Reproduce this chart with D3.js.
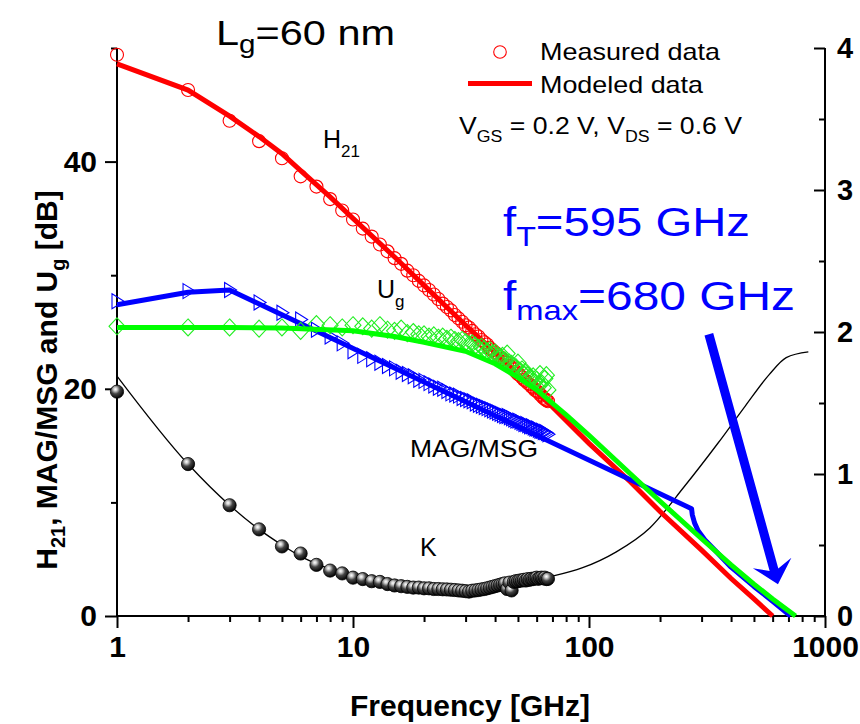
<!DOCTYPE html>
<html>
<head>
<meta charset="utf-8">
<script src="https://cdn.jsdelivr.net/npm/d3@7"></script>
<style>
body { margin: 0; background: #fff; }
text { font-family: "Liberation Sans", Arial, sans-serif; }
</style>
</head>
<body>
<script>
// measured points, 1 GHz steps
const freq = [1,2,3,4,5,6,7,8,9,10,11,12,13,14,15,16,17,18,19,20,21,22,23,24,25,26,27,28,29,30,
  31,32,33,34,35,36,37,38,39,40,41,42,43,44,45,46,47,48,49,50,51,52,53,54,55,56,57,58,59,60,
  61,62,63,64,65,66,67];
const h21Meas = [49.4,46.3,43.6,41.8,40.3,38.7,37.8,36.7,35.7,34.9,34.1,33.4,32.7,32.1,31.5,31.0,30.4,30.0,29.5,29.1,
  28.7,28.3,27.9,27.5,27.2,26.9,26.5,26.2,25.9,25.6,25.4,25.1,24.8,24.6,24.3,24.1,23.9,23.6,23.4,23.2,
  23.0,22.8,22.6,22.4,22.3,22.0,21.9,21.7,21.5,21.3,21.2,21.0,20.8,20.7,20.5,20.4,20.2,20.1,19.9,19.8,
  19.7,19.5,19.4,19.2,19.1,19.0,18.9];
const magMeas = [27.7,28.6,28.7,27.6,26.7,26.1,25.2,24.6,24.0,23.3,22.9,22.6,22.3,22.0,21.8,21.5,21.3,21.1,20.8,20.7,
  20.5,20.3,20.1,20.0,19.8,19.6,19.5,19.4,19.2,19.1,19.0,18.9,18.7,18.6,18.5,18.4,18.3,18.2,18.1,18.0,
  17.9,17.8,17.7,17.6,17.6,17.5,17.4,17.3,17.2,17.2,17.1,17.0,16.9,16.9,16.8,16.7,16.7,16.6,16.5,16.5,
  16.4,16.3,16.3,16.2,16.2,16.1,16.0];
const ugMeas = [25.5,25.4,25.4,25.3,25.4,25.1,25.7,25.6,25.4,25.6,25.5,25.3,25.6,25.2,25.1,25.3,24.9,25.0,24.8,24.8,
  24.6,24.7,24.5,24.6,24.4,24.5,24.3,24.2,24.3,24.1,23.9,24.0,23.8,23.6,23.7,23.5,23.3,23.4,23.1,23.2,
  22.9,22.8,22.9,22.5,23.1,22.3,22.2,22.0,21.9,22.3,21.6,21.7,21.3,21.5,21.2,21.0,20.8,21.1,20.6,20.8,
  20.4,21.3,20.5,20.1,20.9,21.2,19.9];
const kMeas = [1.58,1.07,0.78,0.61,0.49,0.44,0.36,0.32,0.30,0.27,0.26,0.245,0.24,0.225,0.215,0.21,0.205,0.2,0.2,0.195,
  0.195,0.19,0.19,0.188,0.187,0.185,0.183,0.18,0.178,0.175,0.172,0.178,0.18,0.183,0.187,0.19,0.195,0.2,0.205,0.21,
  0.215,0.22,0.225,0.23,0.19,0.235,0.18,0.24,0.245,0.245,0.25,0.25,0.255,0.25,0.26,0.255,0.262,0.26,0.265,0.27,
  0.262,0.268,0.27,0.265,0.27,0.26,0.262];

// modeled curves
const h21ModF = [1,2,3,4,5,6,8,10,15,20,30,40,50,70,100,150,200,300,400,500,600];
const h21Mod = [48.6,46.3,44.0,42.2,40.7,39.2,36.9,35.0,31.6,29.1,25.6,23.2,21.3,18.4,15.2,11.8,9.2,5.8,3.3,1.5,0];
const magModF = [1,2,3,272,274,280,290,310,345,400,500,600,715];
const magMod = [27.4,28.5,28.7,9.45,8.9,8.2,7.5,6.7,5.7,4.3,2.6,1.3,0];
const ugModF = [1,2,3,5,10,15,20,30,40,50,60,80,100,150,200,300,400,500,600,750];
const ugMod = [25.4,25.4,25.4,25.35,25.1,24.6,24.1,23.3,22.2,21.0,19.9,17.7,15.9,12.5,10.1,6.8,4.5,2.8,1.5,0];
const kModF = [1,2,3,4,5,6,8,10,15,20,30,40,50,70,94,130,181,253,353,460,580,685,850];
const kMod = [1.69,1.07,0.78,0.61,0.50,0.42,0.33,0.27,0.215,0.195,0.18,0.205,0.235,0.28,0.34,0.45,0.62,0.91,1.22,1.48,1.70,1.82,1.86];

// ticks
const xMajor = [1,10,100,1000];
const xMinor = [2,3,4,5,6,7,8,9,20,30,40,50,60,70,80,90,200,300,400,500,600,700,800,900];
const yMajor = [0,20,40];
const yMinor = [10,30,50];
const kMajor = [0,1,2,3,4];
const kMinor = [0.5,1.5,2.5,3.5];

// arrow (f, dB) from -> to
const arrowFrom = [322, 24.8];
const arrowTo = [632, 2.8];

const svg = d3.select("body").append("svg")
  .attr("width", 860).attr("height", 724);

const defs = svg.append("defs");
const grad = defs.append("radialGradient").attr("id", "ball")
  .attr("cx", "38%").attr("cy", "32%").attr("r", "70%");
grad.append("stop").attr("offset", "0%").attr("stop-color", "#ffffff");
grad.append("stop").attr("offset", "18%").attr("stop-color", "#d0d0d0");
grad.append("stop").attr("offset", "50%").attr("stop-color", "#444444");
grad.append("stop").attr("offset", "100%").attr("stop-color", "#000000");

const x = d3.scaleLog().domain([1, 1000]).range([117, 825]);
const y = d3.scaleLinear().domain([0, 50]).range([616, 48]);
const yK = d3.scaleLinear().domain([0, 4]).range([616, 48]);

// axes
function styleAxis(g) {
  g.select(".domain").remove();
  g.selectAll(".tick line").attr("stroke", "#000").attr("stroke-width", 2);
  g.selectAll(".tick text").attr("fill", "#000").attr("font-weight", "bold")
    .attr("font-family", "Liberation Sans, Arial, sans-serif");
}

svg.append("g").attr("transform", "translate(0,616)")
  .call(d3.axisBottom(x).tickValues(xMinor).tickSize(6).tickFormat(""))
  .call(styleAxis);
svg.append("g").attr("transform", "translate(0,616)")
  .call(d3.axisBottom(x).tickValues(xMajor).tickSize(12).tickPadding(8).tickFormat(d3.format("d")))
  .call(styleAxis)
  .call(g => g.selectAll(".tick text").attr("font-size", 30).attr("dy", "0.71em"));

svg.append("g").attr("transform", "translate(117,0)")
  .call(d3.axisLeft(y).tickValues(yMinor).tickSize(6).tickFormat(""))
  .call(styleAxis);
svg.append("g").attr("transform", "translate(117,0)")
  .call(d3.axisLeft(y).tickValues(yMajor).tickSize(12).tickPadding(8))
  .call(styleAxis)
  .call(g => g.selectAll(".tick text").attr("font-size", 30));

svg.append("g").attr("transform", "translate(825,0)")
  .call(d3.axisRight(yK).tickValues(kMinor).tickSizeInner(-6).tickSizeOuter(0).tickFormat(""))
  .call(styleAxis);
svg.append("g").attr("transform", "translate(825,0)")
  .call(d3.axisRight(yK).tickValues(kMajor).tickSizeInner(-11).tickSizeOuter(0).tickPadding(12)
    .tickFormat(d3.format("d")))
  .call(styleAxis)
  .call(g => g.selectAll(".tick text").attr("font-size", 29));

svg.append("line").attr("x1", 117).attr("x2", 117).attr("y1", 48).attr("y2", 616)
  .attr("stroke", "#000").attr("stroke-width", 2);
svg.append("line").attr("x1", 825).attr("x2", 825).attr("y1", 48).attr("y2", 616)
  .attr("stroke", "#000").attr("stroke-width", 2);
svg.append("line").attr("x1", 117).attr("x2", 825).attr("y1", 616).attr("y2", 616)
  .attr("stroke", "#000").attr("stroke-width", 2);

// axis titles
svg.append("text").attr("x", 470).attr("y", 716).attr("text-anchor", "middle")
  .attr("font-size", 30).attr("font-weight", "bold").text("Frequency [GHz]");

const yt = svg.append("text").attr("transform", "translate(57,380) rotate(-90)")
  .attr("text-anchor", "middle").attr("font-size", 30).attr("font-weight", "bold");
yt.append("tspan").text("H");
yt.append("tspan").attr("font-size", 20).attr("dy", 8).text("21");
yt.append("tspan").attr("dy", -8).text(", MAG/MSG and U");
yt.append("tspan").attr("font-size", 20).attr("dy", 8).text("g");
yt.append("tspan").attr("dy", -8).text(" [dB]");

// K curve and markers
const lineK = d3.line().x((d, i) => x(kModF[i])).y(d => yK(d)).curve(d3.curveMonotoneX);
svg.append("path").datum(kMod).attr("d", lineK)
  .attr("fill", "none").attr("stroke", "#000").attr("stroke-width", 1.3);
svg.append("g").selectAll("circle").data(kMeas).join("circle")
  .attr("cx", (d, i) => x(freq[i])).attr("cy", d => yK(d)).attr("r", 6.6)
  .attr("fill", "url(#ball)").attr("stroke", "#000").attr("stroke-width", 0.8);

// H21
svg.append("g").selectAll("circle").data(h21Meas).join("circle")
  .attr("cx", (d, i) => x(freq[i])).attr("cy", d => y(d)).attr("r", 6.5)
  .attr("fill", "none").attr("stroke", "#ff0000").attr("stroke-width", 1.1);
const lineDb = fs => d3.line().x((d, i) => x(fs[i])).y(d => y(d));
svg.append("path").datum(h21Mod).attr("d", lineDb(h21ModF))
  .attr("fill", "none").attr("stroke", "#ff0000").attr("stroke-width", 5);

// MAG/MSG
const tri = "M-5,-7.5L7,0L-5,7.5Z";
svg.append("g").selectAll("path").data(magMeas).join("path")
  .attr("d", tri)
  .attr("transform", (d, i) => `translate(${x(freq[i])},${y(d)})`)
  .attr("fill", "none").attr("stroke", "#0000ff").attr("stroke-width", 1.1);
svg.append("path").datum(magMod).attr("d", lineDb(magModF))
  .attr("fill", "none").attr("stroke", "#0000ff").attr("stroke-width", 5)
  .attr("stroke-linejoin", "round");

// Ug
const dia = "M0,-8.5L8,0L0,8.5L-8,0Z";
svg.append("g").selectAll("path").data(ugMeas).join("path")
  .attr("d", dia)
  .attr("transform", (d, i) => `translate(${x(freq[i])},${y(d)})`)
  .attr("fill", "none").attr("stroke", "#22ee22").attr("stroke-width", 1.1);
svg.append("path").datum(ugMod).attr("d", lineDb(ugModF))
  .attr("fill", "none").attr("stroke", "#00ff00").attr("stroke-width", 5);

// arrow
{
  const x0 = x(arrowFrom[0]), y0 = y(arrowFrom[1]);
  const x1 = x(arrowTo[0]), y1 = y(arrowTo[1]);
  const len = Math.hypot(x1 - x0, y1 - y0);
  const ux = (x1 - x0) / len, uy = (y1 - y0) / len;
  const nx = -uy, ny = ux;
  const hw = 4.5, back = 22, wing = 20, notch = 15;
  const p = (a, b) => [x1 + ux * a + nx * b, y1 + uy * a + ny * b];
  const pts = [
    [x0 + nx * hw, y0 + ny * hw], p(-notch, hw), p(-back, wing), [x1, y1],
    p(-back, -wing), p(-notch, -hw), [x0 - nx * hw, y0 - ny * hw]
  ];
  svg.append("path").attr("d", "M" + pts.map(q => q.join(",")).join("L") + "Z")
    .attr("fill", "#0000ff");
}

// annotations
function label(px, py, size, parts, opts = {}) {
  const t = svg.append("text").attr("x", px).attr("y", py).attr("font-size", size)
    .attr("fill", opts.fill || "#000");
  if (opts.len) t.attr("textLength", opts.len).attr("lengthAdjust", "spacingAndGlyphs");
  let down = 0;
  parts.forEach(p => {
    const s = t.append("tspan").text(p.t);
    const want = p.sub ? p.sub : 0;
    if (want !== down) { s.attr("dy", want - down); down = want; }
    if (p.size) s.attr("font-size", p.size);
  });
  return t;
}

label(216, 45, 35, [{t: "L"}, {t: "g", sub: 8, size: 25}, {t: "=60 nm"}], {len: 179});
svg.append("circle").attr("cx", 500).attr("cy", 52).attr("r", 6.3)
  .attr("fill", "none").attr("stroke", "#ff0000").attr("stroke-width", 1.1);
label(540, 60, 24, [{t: "Measured data"}], {len: 180});
svg.append("line").attr("x1", 468).attr("x2", 532).attr("y1", 83.5).attr("y2", 83.5)
  .attr("stroke", "#ff0000").attr("stroke-width", 5);
label(540, 93, 24, [{t: "Modeled data"}], {len: 163});
label(459, 134, 24, [{t: "V"}, {t: "GS", sub: 8, size: 16}, {t: " = 0.2 V, V"},
  {t: "DS", sub: 8, size: 16}, {t: " = 0.6 V"}], {len: 283});

label(323, 148, 25, [{t: "H"}, {t: "21", sub: 9, size: 17}]);
label(377, 298, 25, [{t: "U"}, {t: "g", sub: 9, size: 17}]);
label(410, 457, 24, [{t: "MAG/MSG"}], {len: 128});
label(420, 556, 25, [{t: "K"}]);

label(503, 236, 41, [{t: "f"}, {t: "T", sub: 10, size: 28}, {t: "=595 GHz"}], {len: 247, fill: "#0000ff"});
label(503, 310, 41, [{t: "f"}, {t: "max", sub: 10, size: 28}, {t: "=680 GHz"}], {len: 292, fill: "#0000ff"});
</script>
</body>
</html>
